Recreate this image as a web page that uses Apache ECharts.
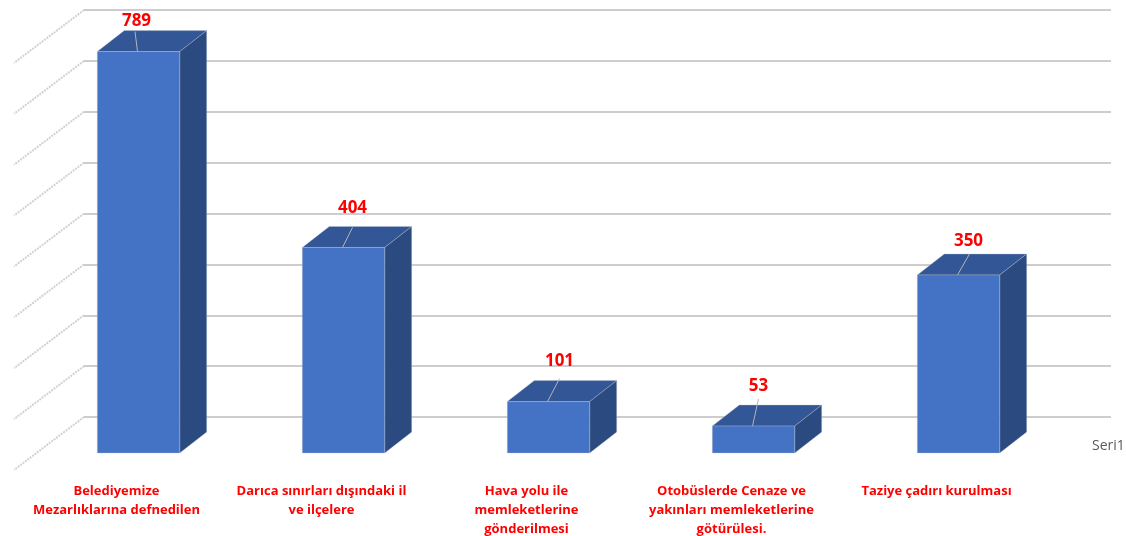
<!DOCTYPE html>
<html><head><meta charset="utf-8">
<style>html,body{margin:0;padding:0;background:#fff}#c{width:1126px;height:536px}</style>
<script src="https://cdn.jsdelivr.net/npm/echarts@6/dist/echarts.min.js"></script>
</head><body><div id="c"></div>
<script>
const categories = [
  'Belediyemize\nMezarlıklarına defnedilen',
  'Darıca sınırları dışındaki il\nve ilçelere',
  'Hava yolu ile\nmemleketlerine\ngönderilmesi',
  'Otobüslerde Cenaze ve\nyakınları memleketlerine\ngötürülesi.',
  'Taziye çadırı kurulması'
];
const values = [789, 404, 101, 53, 350];
const gridTicks = [0, 100, 200, 300, 400, 500, 600, 700, 800];
const seriesName = 'Seri1';

// Drawing styles (pixel offsets of the 3D look and the data-label leaders)
const depthX = 27, depthY = 21, barShift = 22;
const wallX = 70, wallY = 53;
const leaderDx = [-2.5, 10, 12, 6, 12], leaderDy = [20, 20, 23, 27, 21];
const textDx = [-2, 9, 11, 5, 10], textDy = [30, 39, 40, 40, 34];

const chart = echarts.init(document.getElementById('c'), null, {renderer: 'canvas'});
chart.setOption({
  animation: false,
  backgroundColor: '#ffffff',
  legend: {
    show: true, left: 1082, top: 434, icon: 'none', itemWidth: 0, itemGap: 0,
    data: [seriesName],
    textStyle: {color: '#595959', fontSize: 14, fontFamily: 'Open Sans', padding: 0}
  },
  grid: [
    {left: 14, width: 1025, top: 46, bottom: 83, outerBoundsMode: 'none'},
    {left: 84, width: 1027, top: 10, bottom: 119, outerBoundsMode: 'none'}
  ],
  xAxis: [
    {type: 'category', gridIndex: 0, data: categories,
     axisLine: {show: false}, axisTick: {show: false},
     axisLabel: {margin: 29, interval: 0, color: '#ff0000', fontWeight: 'bold', fontSize: 13,
       fontFamily: 'Open Sans', lineHeight: 19, align: 'center', verticalAlign: 'top'}},
    {type: 'value', gridIndex: 1, min: 0, max: 1, show: false, splitLine: {show: false}}
  ],
  yAxis: [
    {type: 'value', gridIndex: 0, min: 0, max: 800, interval: 100, show: false, splitLine: {show: false}},
    {type: 'value', gridIndex: 1, min: 0, max: 800, interval: 100,
     axisLine: {show: false}, axisTick: {show: false}, axisLabel: {show: false},
     splitLine: {show: true, lineStyle: {color: '#cdcdcd', width: 2}}}
  ],
  series: [
    {
      type: 'custom', name: 'wall', xAxisIndex: 1, yAxisIndex: 1, z: 1, clip: false, silent: true,
      data: gridTicks.map(v => [0, v]),
      encode: {x: 0, y: 1},
      renderItem: (params, api) => {
        const p = api.coord([api.value(0), api.value(1)]);
        return {type: 'line', shape: {x1: p[0], y1: p[1], x2: p[0] - wallX, y2: p[1] + wallY},
          style: {stroke: '#d2d2d2', lineWidth: 2, lineDash: [2, 1], fill: null}};
      }
    },
    {
      type: 'custom', name: seriesName, xAxisIndex: 0, yAxisIndex: 0, z: 5, clip: false,
      itemStyle: {color: '#4472C4'},
      data: values.map((v, i) => [i, v]),
      encode: {x: 0, y: 1},
      renderItem: (params, api) => {
        const i = params.dataIndex, v = api.value(1);
        const top = api.coord([i, v]), base = api.coord([i, 0]);
        const w = api.size([1, 0])[0] * 0.402;
        const cx = top[0] + barShift, x0 = cx - w / 2, x1 = cx + w / 2;
        const yT = top[1], yB = base[1];
        const edge = {stroke: 'rgba(190,195,205,0.35)', lineWidth: 1};
        return {type: 'group', children: [
          {type: 'polygon', shape: {points: [[x0, yT], [x1, yT], [x1 + depthX, yT - depthY], [x0 + depthX, yT - depthY]]},
            style: Object.assign({fill: '#325696'}, edge)},
          {type: 'polygon', shape: {points: [[x1, yT], [x1 + depthX, yT - depthY], [x1 + depthX, yB - depthY], [x1, yB]]},
            style: Object.assign({fill: '#2A4A80'}, edge)},
          {type: 'rect', shape: {x: x0, y: yT, width: w, height: yB - yT},
            style: Object.assign({fill: '#4472C4'}, edge)},
          {type: 'line', shape: {x1: cx - 1, y1: yT, x2: cx - 1 + leaderDx[i], y2: yT - leaderDy[i]},
            style: {stroke: '#b5b5b5', lineWidth: 1, fill: null}},
          {type: 'text', x: cx + textDx[i], y: yT - textDy[i],
            style: {text: String(v), fill: '#ff0000', fontSize: 17, fontWeight: 'bold', fontFamily: 'Open Sans',
              align: 'center', verticalAlign: 'middle'}}
        ]};
      }
    }
  ]
});
</script></body></html>
